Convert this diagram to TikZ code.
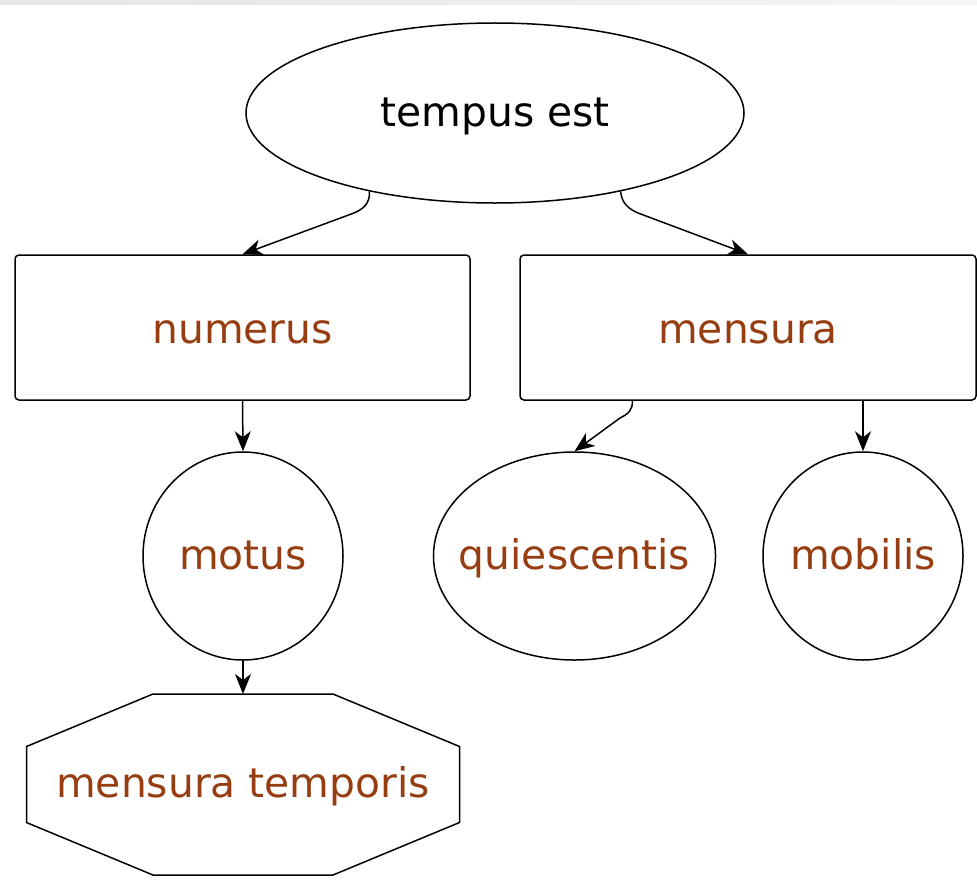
\documentclass[tikz,border=0pt]{standalone}
\usepackage{fontspec}
\setmainfont{DejaVu Sans}
\usepackage{tikz}
\usetikzlibrary{shapes.geometric,arrows.meta,calc}
\definecolor{leafbrown}{RGB}{150,62,18}

\begin{document}
\begin{tikzpicture}[x=0.5pt,y=0.5pt,line width=0.75pt,
    every node/.style={inner sep=0pt,font=\fontsize{20.4}{24}\selectfont,
      text height=16pt,text depth=3pt},
    oval/.style={draw,ellipse,text=leafbrown,inner xsep=-8pt},
    box/.style={draw,rectangle,rounded corners=2pt,text=leafbrown,
      minimum height=72.5pt,text height=17.5pt,text depth=2pt},
    arr/.style={-{Stealth[length=10pt,width=8pt,inset=3pt]}}]
	  \useasboundingbox(0, 0) rectangle (977, -888);
	  \shade[left color=gray!20, right color=gray!8](0, 0) rectangle (977, -5);
	  \node[draw,ellipse,minimum width=249pt,minimum height=90pt](tempus)
	  at (495, -113) {tempus est};
	  \node[box,minimum width=227.5pt](numerus) at (242.5, -327.5) {numerus};
	  \node[box,minimum width=228pt](mensura) at (748, -327.5) {mensura};
	  \node[oval,minimum width=100pt,minimum height=104pt](motus)
	  at (243, -556) {motus};
	  \node[oval,minimum width=140.5pt,minimum height=104pt](quiescentis)
	  at (574.5, -556) {quiescentis};
	  \node[oval,minimum width=100pt,minimum height=104pt](mobilis)
	  at (863, -556) {mobilis};
	  \node[text=leafbrown](temporis) at (243, -784.5) {mensura temporis};
	  \draw[shift={(temporis.center)}](-90, 90.5) -- (90, 90.5) -- (216.5, 38)
	  -- (216.5, -38) -- (90, -90.5) -- (-90, -90.5) -- (-216.5, -38)
	  -- (-216.5, 38) -- cycle;
	  \coordinate(octtop) at ($(temporis.center)+(0, 90.5)$);
	  \coordinate(qstart) at ($(mensura.south west)+(113, 0)$);
	  % edges
	  \draw[arr](tempus.212) .. controls (370, -204) and (363, -209)
	  .. (354, -213) -- (numerus.north);
	  \draw[arr](tempus.328) .. controls (622, -204) and (629, -209)
	  .. (638, -213) -- (mensura.north);
	  \draw[arr](numerus.south) -- (motus.north);
	  \draw[arr](motus.south) -- (octtop);
	  \draw[arr](qstart) .. controls (633, -410) and (628, -414)
	  .. (620, -418) -- (quiescentis.north);
	  \draw[arr](mensura.south -| mobilis.north) -- (mobilis.north);
	\end{tikzpicture}
\end{document}
